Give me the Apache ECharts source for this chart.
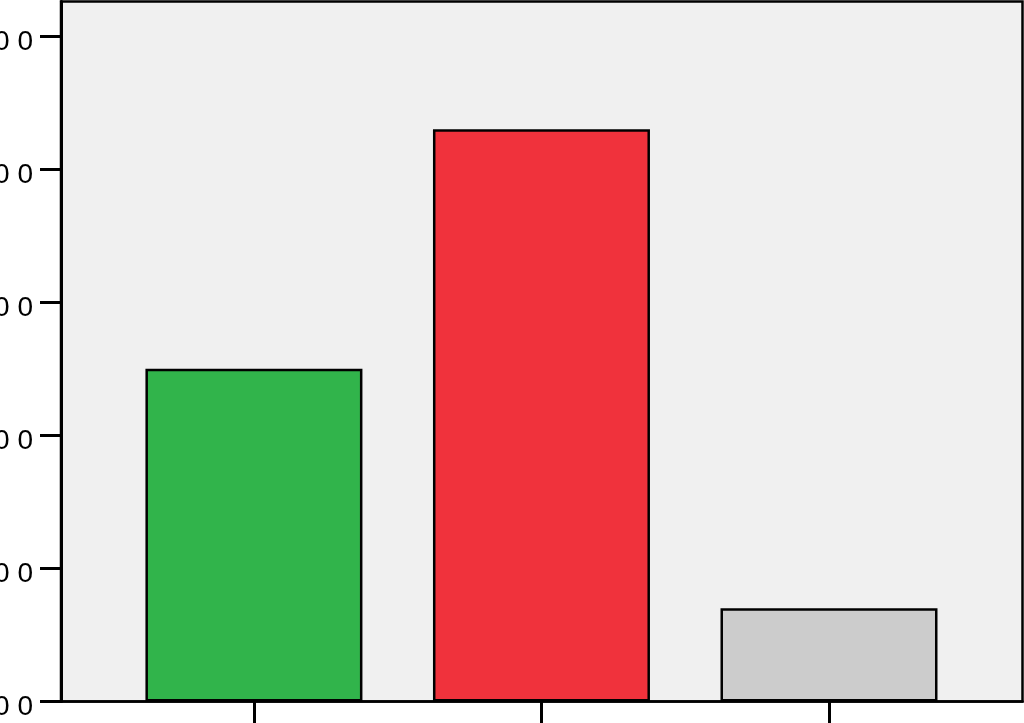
<!DOCTYPE html>
<html>
<head>
<meta charset="utf-8">
<script src="https://cdn.jsdelivr.net/npm/echarts@6/dist/echarts.min.js"></script>
<style>
  html, body { margin: 0; padding: 0; background: #fff; }
  #chart { width: 1024px; height: 723px; }
</style>
</head>
<body>
<div id="chart"></div>
<script>
// bar positions on the x axis (1, 2, 3) and their heights
const positions = [1, 2, 3];
const values = [25, 43, 7];
const barColors = ['#31b44b', '#f0323c', '#cccccc'];
const yTicks = [0, 10, 20, 30, 40, 50];

const chart = echarts.init(document.getElementById('chart'));

const option = {
    animation: false,
    backgroundColor: '#ffffff',
    grid: {
        left: 61, right: 1.5, top: 1.5, bottom: 21.5,
        containLabel: false,
        outerBoundsMode: 'none',
        show: true,
        backgroundColor: '#f0f0f0',
        borderColor: '#000',
        borderWidth: 2.5
    },
    xAxis: {
        type: 'value',
        min: 0.329,
        max: 3.673,
        splitLine: { show: false },
        axisLine: { show: true, lineStyle: { color: '#000', width: 2.5 } },
        axisTick: {
            show: true, length: 22, inside: false,
            customValues: positions,
            lineStyle: { color: '#000', width: 3 }
        },
        axisLabel: { show: false }
    },
    yAxis: {
        type: 'value',
        min: 0,
        max: 52.6,
        splitLine: { show: false },
        axisLine: { show: true, lineStyle: { color: '#000', width: 3 } },
        axisTick: {
            show: true, length: 21,
            customValues: yTicks,
            lineStyle: { color: '#000', width: 3 }
        },
        axisLabel: {
            customValues: yTicks,
            // the original labels are widely spaced and sit a bit below the tick
            formatter: v => '{a|' + v.toFixed(2).split('').join(' ') + '}',
            margin: 28,
            rich: {
                a: {
                    padding: [12, 0, 0, 0],
                    color: '#000',
                    fontFamily: 'Liberation Sans',
                    fontSize: 28
                }
            }
        }
    },
    series: [{
        type: 'bar',
        barWidth: 217,
        data: positions.map((p, i) => ({
            value: [p, values[i]],
            itemStyle: { color: barColors[i] }
        })),
        itemStyle: { borderColor: '#000', borderWidth: 2.5 }
    }]
};

chart.setOption(option);
</script>
</body>
</html>
